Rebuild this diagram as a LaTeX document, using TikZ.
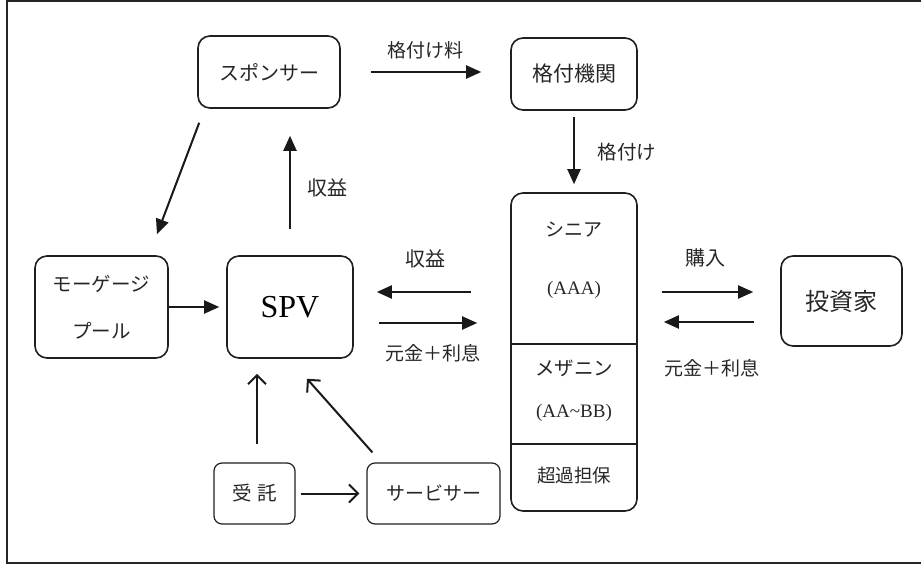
\documentclass[tikz,border=0pt]{standalone}
\usepackage{fontspec}
\setmainfont{Liberation Serif}
\newfontfamily\jp{Noto Sans CJK JP}
\usetikzlibrary{arrows.meta,calc}
\begin{document}
\begin{tikzpicture}[x=1pt,y=-1pt,
  box/.style={draw=black!88,line width=1.6pt,rounded corners=12pt,inner sep=0pt},
  sbox/.style={draw=black!88,line width=1.2pt,rounded corners=8pt,inner sep=0pt},
  farrow/.style={draw=black!90,line width=2pt,-{Triangle[length=15pt,width=13pt]}},
  oarrow/.style={draw=black!90,line width=2pt,-{Straight Barb[length=9pt,width=18pt,line width=2pt]}},
  jt/.style={font=\jp\fontsize{19.5}{22}\selectfont,text=black!85,inner sep=0pt},
  lt/.style={font=\fontsize{19}{22}\selectfont,text=black!85,inner sep=0pt}]
\useasboundingbox (0,0) rectangle (921,564);
\begin{scope}
\clip (0,0) rectangle (921,564);
\draw[line width=2pt,draw=black!85] (6.5,1) rectangle (930,562.5);
\end{scope}

% nodes
\node[box,minimum width=142pt,minimum height=72pt,jt,font=\jp\fontsize{20}{24}\selectfont] (sp) at (269,72) {スポンサー};
\node[box,minimum width=126pt,minimum height=72pt,jt,font=\jp\fontsize{21}{24}\selectfont] (ra) at (574,74) {格付機関};
\node[box,minimum width=133pt,minimum height=102pt,jt,align=center,font=\jp\fontsize{19.5}{47}\selectfont] (pool) at (101.5,307) {モーゲージ\\プール};
\node[box,minimum width=126pt,minimum height=102pt,font=\fontsize{32}{36}\selectfont] (spv) at (290,307) {SPV};
\node[box,minimum width=126pt,minimum height=318pt] (tr) at (574,352) {};
\node[box,minimum width=121pt,minimum height=90pt,jt,font=\jp\fontsize{24}{27}\selectfont] (inv) at (841.5,301) {投資家};
\node[sbox,minimum width=81pt,minimum height=61pt,jt] (tk) at (254.5,493.5) {受\hspace{0.3em}託};
\node[sbox,minimum width=133pt,minimum height=61pt,jt,font=\jp\fontsize{19}{22}\selectfont] (sv) at (433.5,493.5) {サービサー};

% tranche dividers and texts
\draw[line width=1.6pt,draw=black!88] (tr.west |- 0,344) -- (tr.east |- 0,344);
\draw[line width=1.6pt,draw=black!88] (tr.west |- 0,444) -- (tr.east |- 0,444);
\node[jt,font=\jp\fontsize{19}{22}\selectfont] (sen) at (574,230) {シニア};
\node[lt] (aaa) at (574,290) {(AAA)};
\node[jt] (mez) at (574,368) {メザニン};
\node[lt] (aabb) at (574,413) {(AA\textasciitilde BB)};
\node[jt,font=\jp\fontsize{18.5}{22}\selectfont] (eq) at (574,475) {超過担保};

% connectors
\draw[farrow,shorten <=30pt,shorten >=29pt] (sp.east) -- (sp.east -| ra.west);
\node[jt,font=\jp\fontsize{19}{22}\selectfont] (l1) at (425,50) {格付け料};
\draw[farrow,shorten <=6pt,shorten >=8pt] (ra.south) -- (ra.south |- tr.north);
\node[jt] (l2) at (627,152) {格付け};
\draw[farrow,shorten <=26pt,shorten >=27pt] (spv.north) -- (spv.north |- sp.south);
\node[jt,font=\jp\fontsize{20}{22}\selectfont] (l3) at (327,188) {収益};
\draw[farrow] ([xshift=2pt,yshift=-14pt]sp.south west) -- ([xshift=55.5pt,yshift=21pt]pool.north);
\draw[farrow,shorten >=7pt] (pool.east) -- (spv.west);
\draw[farrow,shorten <=39pt,shorten >=23pt] ([yshift=15pt]spv.east -| tr.west) -- ([yshift=15pt]spv.east);
\draw[farrow,shorten <=25pt,shorten >=33pt] ([yshift=-16pt]spv.east) -- ([yshift=-16pt]spv.east -| tr.west);
\node[jt,font=\jp\fontsize{20}{22}\selectfont] (l4) at (425,259) {収益};
\node[jt,font=\jp\fontsize{19}{22}\selectfont] (l5) at (433,353) {元金＋利息};
\draw[farrow,shorten <=24pt,shorten >=27pt] ([yshift=15pt]spv.east -| tr.east) -- ([yshift=15pt]spv.east -| inv.west);
\draw[farrow,shorten <=26pt,shorten >=26pt] ([yshift=-15pt]spv.east -| inv.west) -- ([yshift=-15pt]spv.east -| tr.east);
\node[jt,font=\jp\fontsize{20}{22}\selectfont] (l6) at (705,258) {購入};
\node[jt,font=\jp\fontsize{19}{22}\selectfont] (l7) at (712,368) {元金＋利息};
\draw[oarrow,shorten <=18pt,shorten >=15pt] ([xshift=2.5pt]tk.north) -- ([xshift=2.5pt]tk.north |- spv.south);
\draw[oarrow] ([xshift=6pt,yshift=10pt]sv.north west) -- ([xshift=17pt,yshift=-20pt]spv.south);
\draw[oarrow,shorten <=5pt,shorten >=7pt] (tk.east) -- (sv.west);
\end{tikzpicture}
\end{document}
